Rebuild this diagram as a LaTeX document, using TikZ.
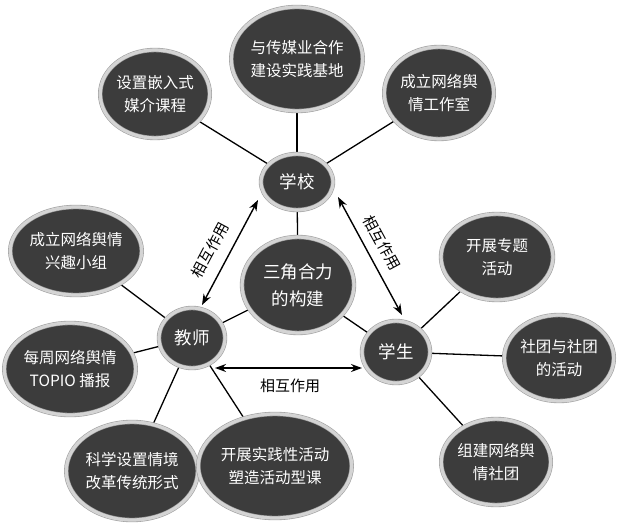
\documentclass[tikz,border=0pt]{standalone}
\usepackage{fontspec}
\setmainfont{Noto Sans CJK SC}
\usetikzlibrary{shapes.geometric,arrows.meta,backgrounds}
\definecolor{nodefill}{HTML}{3C3C3C}
\definecolor{ringc}{HTML}{D4D4D4}
\definecolor{ringedge}{HTML}{A0A0A0}
\begin{document}
\begin{tikzpicture}[x=1bp,y=-1bp,
  bubble/.style={ellipse, fill=nodefill, draw=ringedge, double=ringc, double distance=3.2bp, line width=0.6bp, inner sep=0pt, text=white, align=center, font=\fontsize{15.5bp}{23bp}\selectfont},
  hub/.style={bubble, font=\fontsize{17.5bp}{27bp}\selectfont},
  link/.style={line width=1.3bp, black},
  mutual/.style={line width=1.4bp, black, {Stealth[length=11bp,width=8bp]}-{Stealth[length=11bp,width=8bp]}},
  lbl/.style={font=\fontsize{15bp}{18bp}\selectfont, inner sep=0pt, text=black}]
\useasboundingbox (0,0) rectangle (618,525);

% outer nodes
\node[bubble, minimum width=100bp, minimum height=88bp] (kecheng) at (155,94) {设置嵌入式\\媒介课程};
\node[bubble, minimum width=122bp, minimum height=104bp] (meiti) at (297,59) {与传媒业合作\\建设实践基地};
\node[bubble, minimum width=108bp, minimum height=92bp] (gzs) at (439,93) {成立网络舆\\情工作室};
\node[bubble, minimum width=100bp, minimum height=88bp] (xqxz) at (76,251) {成立网络舆情\\兴趣小组};
\node[bubble, minimum width=120bp, minimum height=92bp] (mz) at (70,369) {每周网络舆情\\TOPIO 播报};
\node[bubble, minimum width=116bp, minimum height=98bp] (kx) at (132,471) {科学设置情境\\改革传统形式};
\node[bubble, minimum width=130bp, minimum height=104bp] (kz) at (275,466) {开展实践性活动\\塑造活动型课};
\node[bubble, minimum width=112bp, minimum height=86bp] (ztz) at (497,257) {开展专题\\活动};
\node[bubble, minimum width=108bp, minimum height=86bp] (st) at (559,358) {社团与社团\\的活动};
\node[bubble, minimum width=108bp, minimum height=86bp] (zj) at (496,462) {组建网络舆\\情社团};

% hubs
\node[hub, minimum width=72bp, minimum height=56bp] (xuexiao) at (297,182) {学校};
\node[hub, minimum width=112bp, minimum height=96bp] (sanjiao) at (298,285) {三角合力\\的构建};
\node[hub, minimum width=66bp, minimum height=60bp] (jiaoshi) at (192,338) {教师};
\node[hub, minimum width=68bp, minimum height=62bp] (xuesheng) at (396,352) {学生};

\begin{scope}[on background layer]
  \fill[white] (0,0) rectangle (618,525);
  \draw[link] (xuexiao) -- (kecheng);
  \draw[link] (xuexiao) -- (meiti);
  \draw[link] (xuexiao) -- (gzs);
  \draw[link] (xuexiao) -- (sanjiao);
  \draw[link] (sanjiao) -- (jiaoshi);
  \draw[link] (sanjiao) -- (xuesheng);
  \draw[link] (jiaoshi) -- (xqxz);
  \draw[link] (jiaoshi) -- (mz);
  \draw[link] (jiaoshi) -- (kx);
  \draw[link] (jiaoshi) -- (kz);
  \draw[link] (xuesheng) -- (ztz);
  \draw[link] (xuesheng) -- (st);
  \draw[link] (xuesheng) -- (zj);
\end{scope}

% mutual interaction arrows
\draw[mutual] ([shift={(10,-33)}]jiaoshi.center) -- ([shift={(-39,18)}]xuexiao.center);
\draw[mutual] ([shift={(41,15)}]xuexiao.center) -- ([shift={(6,-37)}]xuesheng.center);
\draw[mutual] ([shift={(23,30)}]jiaoshi.center) -- ([shift={(-34,16)}]xuesheng.center);

\node[lbl, rotate=62] (l1) at (210,250) {相互作用};
\node[lbl, rotate=-61.5] (l2) at (382,243) {相互作用};
\node[lbl] (l3) at (290,386) {相互作用};
\end{tikzpicture}
\end{document}
